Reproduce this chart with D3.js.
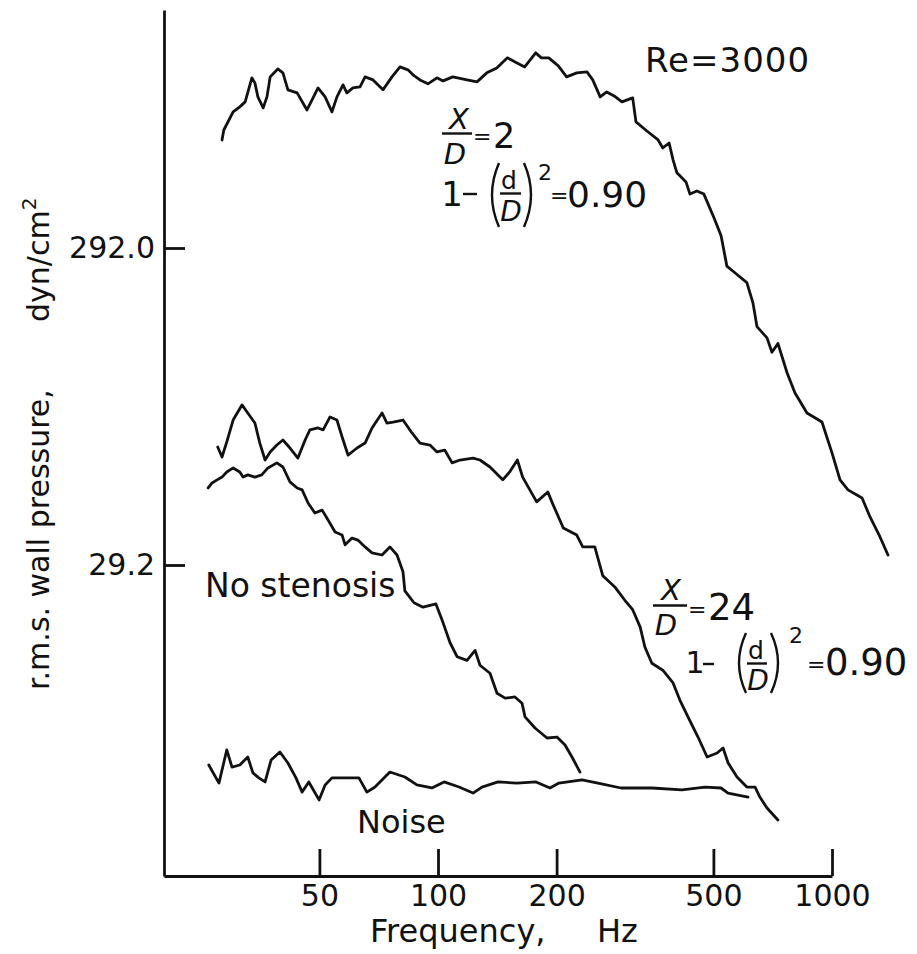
<!DOCTYPE html>
<html>
<head>
<meta charset="utf-8">
<script src="https://cdn.jsdelivr.net/npm/d3@7"></script>
<style>
  body { margin: 0; background: #fff; }
  svg text { font-family: "DejaVu Sans", sans-serif; fill: #111; }
</style>
</head>
<body>
<script>
// Spectra, [frequency Hz, r.m.s. wall pressure dyn/cm^2]
// x/D = 2, 1-(d/D)^2 = 0.90
var stenosisNear = [[28.3,640],[28.6,688],[30.2,785],[31.4,814],[32.4,844],[33.7,1005],[34.3,969],[34.9,875],
    [36.0,808],[36.8,875],[37.5,1012],[39.2,1072],[40.4,1042],[41.6,921],[43.9,901],[46.5,796],[47.9,856],
    [49.6,934],[51.7,875],[53.8,785],[55.4,875],[57.4,955],[58.7,901],[60.8,934],[63.4,941],[65.3,1012],
    [68.4,990],[72.5,921],[76.4,1012],[80.1,1088],[83.9,1065],[86.4,1027],[90.0,990],[94.3,962],[99.4,1005],
    [103,983],[109,1012],[118.5,990],[125.6,976],[133,1042],[141,1080],[150,1162],[157,1128],[166,1088],
    [177,1205],[183,1162],[191,1162],[202,1096],[212,1012],[225,1042],[239,1049],[247,990],[258,875],
    [268,907],[280,881],[293,844],[312,869],[318,730],[339,683],[362,640],[372,604],[386,626],[395,554],
    [404,504],[426,472],[436,432],[454,442],[473,432],[502,363],[523,319],[541,256],[567,244],[608,227],
    [630,196],[645,165],[684,152],[704,137],[729,146],[769,118],[805,102],[864,88.1],[943,82.5],[1000,65.9],
    [1048,54.2],[1098,50.4],[1192,47.5],[1249,41.4],[1324,35.8],[1387,31.4]];

// x/D = 24, 1-(d/D)^2 = 0.90
var stenosisFar = [[27.6,68.8],[28.3,64.0],[29.1,71.4],[30.2,83.7],[31.8,93.4],[32.9,88.1],[34.3,81.9],
    [35.3,70.8],[36.4,62.6],[37.5,66.4],[39.0,69.8],[40.4,72.4],[42.1,68.3],[44.1,63.5],[46.0,72.4],
    [47.3,77.9],[49.6,79.0],[51.1,77.9],[53.2,85.6],[55.4,83.7],[57.1,74.0],[59.1,64.9],[62.3,68.3],
    [65.3,70.8],[68.0,79.0],[72.1,88.1],[74.2,81.9],[76.9,82.5],[81.5,83.7],[85.9,76.2],[90.0,70.8],
    [95.4,69.8],[99.4,66.4],[104,67.3],[108.6,61.3],[113.7,62.6],[122.7,63.5],[127.8,62.6],[135.5,59.5],
    [146,54.2],[152,57.4],[159,62.6],[164,55.3],[178,46.2],[190,49.6],[196,45.2],[208,38.2],[225,36.3],
    [233,33.3],[250,33.3],[262,27.0],[281,24.9],[298,22.6],[312,21.1],[326,18.6],[335,16.1],[349,14.3],
    [372,13.6],[395,12.4],[411,10.95],[431,9.69],[457,8.37],[482,7.24],[511,7.45],[529,7.73],[545,6.93],
    [574,6.26],[608,5.82],[638,5.82],[656,5.41],[684,5.00],[729,4.58]];

// no stenosis
var noStenosis = [[26.1,51.1],[26.7,53.0],[27.5,54.2],[28.3,55.3],[29.1,57.4],[30.2,59.1],[31.4,57.4],
    [32.0,55.3],[32.9,56.2],[34.3,55.3],[35.7,56.2],[37.0,59.1],[39.0,61.3],[40.4,59.5],[42.1,53.4],
    [43.9,51.1],[45.2,50.4],[46.8,45.8],[48.7,42.6],[50.8,43.5],[52.6,40.5],[54.8,37.1],[57.1,36.3],
    [58.1,33.8],[60.5,35.5],[62.6,35.0],[65.3,33.3],[68.0,31.9],[72.1,31.4],[75.5,33.3],[78.7,31.4],
    [81.5,27.8],[82.4,24.2],[86.9,22.2],[91.6,21.5],[98.8,22.0],[102.4,19.6],[107.3,16.6],[111.8,15.0],
    [118.5,14.6],[124.2,15.7],[127.8,14.1],[135.5,13.3],[141.2,11.5],[148,11.1],[156.8,11.2],[163.4,10.7],
    [166.3,9.69],[176.3,8.94],[189.1,8.31],[200.4,8.37],[210.1,7.90],[218.8,7.24],[229.3,6.49]];

// background noise
var noise = [[26.2,6.83],[27.8,5.99],[29.1,7.62],[30.0,6.73],[31.4,6.83],[32.9,7.24],[33.9,6.45],[35.1,6.22],
    [36.4,6.04],[37.7,7.08],[39.7,7.51],[41.6,6.93],[43.6,6.22],[45.2,5.61],[47.0,6.04],[49.9,5.30],
    [51.7,5.91],[53.8,6.22],[57.7,6.22],[63.0,6.22],[66.0,5.61],[69.2,5.82],[75.5,6.49],[82.4,6.26],
    [88.4,5.91],[96.5,5.78],[103.6,6.04],[113.1,5.82],[122.7,5.57],[129.3,5.82],[142,6.04],[158.7,5.99],
    [177.3,6.04],[192.4,5.78],[202.8,5.99],[232,6.13],[254.7,5.99],[291.4,5.78],[349.3,5.78],[416.2,5.70],
    [476,5.82],[522.8,5.78],[544.6,5.57],[612.1,5.41]];

var xTicks = [50, 100, 200, 500, 1000];
var yTicks = [29.2, 292];
var yTickLabels = ["29.2", "292.0"];

var width = 917, height = 954;

var svg = d3.select("body").append("svg")
    .attr("width", width)
    .attr("height", height)
    .style("background", "#fff");

// both axes are logarithmic; fix them on two known ticks, then stretch to the frame
var x = d3.scaleLog().domain([100, 1000]).range([438, 832]);
x.domain([x.invert(164), 1000]).range([164, 832]);

var y = d3.scaleLog().domain([29.2, 292]).range([565, 248]);
y.domain([y.invert(876), y.invert(10)]).range([876, 10]);

// x axis, ticks pointing inwards
var gx = svg.append("g")
    .attr("transform", "translate(0,876)")
    .call(d3.axisBottom(x)
        .tickValues(xTicks)
        .tickFormat(d3.format("d"))
        .tickSize(-27)
        .tickSizeOuter(0)
        .tickPadding(9));

// y axis
var gy = svg.append("g")
    .attr("transform", "translate(164,0)")
    .call(d3.axisLeft(y)
        .tickValues(yTicks)
        .tickFormat(function (d, i) { return yTickLabels[i]; })
        .tickSize(-21)
        .tickSizeOuter(0)
        .tickPadding(9));

gx.selectAll("text").attr("font-size", 30);
gy.selectAll("text").attr("font-size", 30);
svg.selectAll(".domain, .tick line")
    .attr("stroke", "#111")
    .attr("stroke-width", 2.8);

// the four traces
var line = d3.line()
    .x(function (d) { return x(d[0]); })
    .y(function (d) { return y(d[1]); });

[stenosisNear, stenosisFar, noStenosis, noise].forEach(function (s) {
    svg.append("path")
        .attr("d", line(s))
        .attr("fill", "none")
        .attr("stroke", "#111")
        .attr("stroke-width", 2.8)
        .attr("stroke-linejoin", "round")
        .attr("stroke-linecap", "round");
});

// text helpers
function txt(px, py, s, size, opt) {
    opt = opt || {};
    return svg.append("text")
        .attr("x", px).attr("y", py)
        .attr("font-size", size)
        .attr("font-style", opt.italic ? "italic" : null)
        .attr("text-anchor", opt.anchor || "start")
        .attr("letter-spacing", opt.ls || null)
        .text(s);
}
function bar(x1, x2, py) {
    svg.append("line")
        .attr("x1", x1).attr("x2", x2).attr("y1", py).attr("y2", py)
        .attr("stroke", "#111").attr("stroke-width", 2.4);
}
function paren(px, top, bottom, bulge) {
    // px = end points, bulge < 0 for "(" and > 0 for ")"
    svg.append("path")
        .attr("d", "M" + px + "," + top + "Q" + (px + 2 * bulge) + "," + ((top + bottom) / 2) + " " + px + "," + bottom)
        .attr("fill", "none").attr("stroke", "#111").attr("stroke-width", 2.4);
}

// axis titles
txt(370, 942, "Frequency,", 32);
txt(597, 942, "Hz", 32);

svg.append("text")
    .attr("transform", "translate(49,690) rotate(-90)")
    .attr("font-size", 30)
    .text("r.m.s. wall pressure,");
var yt = svg.append("text")
    .attr("transform", "translate(49,322) rotate(-90)")
    .attr("font-size", 30);
yt.append("tspan").text("dyn/cm");
yt.append("tspan").attr("dy", -13).attr("font-size", 20).text("2");

// curve labels
txt(645, 72, "Re=3000", 34, { ls: 1 });
txt(205, 597, "No stenosis", 33);
txt(357, 833, "Noise", 32);

// x/D = 2 block
txt(459, 129, "X", 29, { italic: true, anchor: "middle" });
bar(442, 472, 133.5);
txt(455, 164, "D", 29, { italic: true, anchor: "middle" });
txt(473, 144, "=", 22);
txt(493, 148, "2", 35);

txt(452, 206, "1", 34, { anchor: "middle" });
bar(463, 477, 194);
paren(499, 163, 227, -7);
txt(509, 189, "d", 25, { anchor: "middle" });
bar(500, 521, 193.5);
txt(511, 221, "D", 28, { italic: true, anchor: "middle" });
paren(524, 163, 227, 7);
txt(538, 180, "2", 22);
txt(550, 203, "=", 22);
txt(567, 207, "0.90", 36);

// x/D = 24 block
txt(671, 600, "X", 29, { italic: true, anchor: "middle" });
bar(653, 687, 605.5);
txt(666, 635, "D", 29, { italic: true, anchor: "middle" });
txt(688, 617, "=", 22);
txt(708, 620, "24", 37);

txt(695, 673, "1", 30, { anchor: "middle" });
bar(703, 714, 664);
paren(746, 633, 693, -7);
txt(756, 659, "d", 25, { anchor: "middle" });
bar(747, 767, 663.5);
txt(758, 690, "D", 28, { italic: true, anchor: "middle" });
paren(771, 633, 693, 7);
txt(789, 643, "2", 22);
txt(807, 672, "=", 22);
txt(825, 675, "0.90", 37);
</script>
</body>
</html>
